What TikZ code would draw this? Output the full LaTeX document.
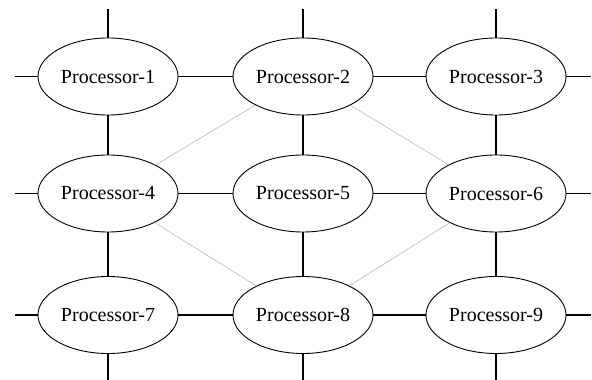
\documentclass[tikz,border=0pt]{standalone}
\usepackage{fontspec}
\setmainfont{Liberation Serif}
\usetikzlibrary{shapes.geometric}
\begin{document}
\begin{tikzpicture}[line join=bevel,
  proc/.style={draw,ellipse,line width=0.9bp,minimum width=140bp,minimum height=77bp,inner sep=0pt,font=\fontsize{20bp}{24bp}\selectfont},
  link/.style={black,line width=1.1bp},
  diag/.style={black!22,line width=0.8bp},]
\useasboundingbox (0bp,0bp) rectangle (592bp,380bp);
%%
\node (node_1) at (108bp,303.5bp) [proc] {Processor-1};
  \node (node_2) at (303bp,303.5bp) [proc] {Processor-2};
  \node (node_3) at (496bp,303.5bp) [proc] {Processor-3};
  \node (node_4) at (108bp,186.5bp) [proc] {Processor-4};
  \node (node_5) at (303bp,186.5bp) [proc] {Processor-5};
  \node (node_6) at (496bp,186.5bp) [proc] {Processor-6};
  \node (node_7) at (108bp,65bp) [proc] {Processor-7};
  \node (node_8) at (303bp,65bp) [proc] {Processor-8};
  \node (node_9) at (496bp,65bp) [proc] {Processor-9};
%
  \coordinate (top_1) at (108bp,371bp);
  \coordinate (top_2) at (303bp,371bp);
  \coordinate (top_3) at (496bp,371bp);
  \coordinate (bot_7) at (108bp,0bp);
  \coordinate (bot_8) at (303bp,0bp);
  \coordinate (bot_9) at (496bp,0bp);
  \coordinate (left_1) at (15bp,303.5bp);
  \coordinate (left_4) at (15bp,186.5bp);
  \coordinate (left_7) at (15bp,65bp);
  \coordinate (right_3) at (591bp,303.5bp);
  \coordinate (right_6) at (591bp,186.5bp);
  \coordinate (right_9) at (591bp,65bp);
%
  \draw [diag] (node_4) -- (node_2);
  \draw [diag] (node_2) -- (node_6);
  \draw [diag] (node_4) -- (node_8);
  \draw [diag] (node_8) -- (node_6);
%
  \draw [link] (node_1) -- (node_2);
  \draw [link] (node_2) -- (node_3);
  \draw [link] (node_4) -- (node_5);
  \draw [link] (node_5) -- (node_6);
  \draw [link] (node_7) -- (node_8);
  \draw [link] (node_8) -- (node_9);
  \draw [link] (node_1) -- (node_4);
  \draw [link] (node_4) -- (node_7);
  \draw [link] (node_2) -- (node_5);
  \draw [link] (node_5) -- (node_8);
  \draw [link] (node_3) -- (node_6);
  \draw [link] (node_6) -- (node_9);
%
  \draw [link] (top_1) -- (node_1);
  \draw [link] (top_2) -- (node_2);
  \draw [link] (top_3) -- (node_3);
  \draw [link] (node_7) -- (bot_7);
  \draw [link] (node_8) -- (bot_8);
  \draw [link] (node_9) -- (bot_9);
  \draw [link] (left_1) -- (node_1);
  \draw [link] (left_4) -- (node_4);
  \draw [link] (left_7) -- (node_7);
  \draw [link] (node_3) -- (right_3);
  \draw [link] (node_6) -- (right_6);
  \draw [link] (node_9) -- (right_9);
%
\end{tikzpicture}
\end{document}
